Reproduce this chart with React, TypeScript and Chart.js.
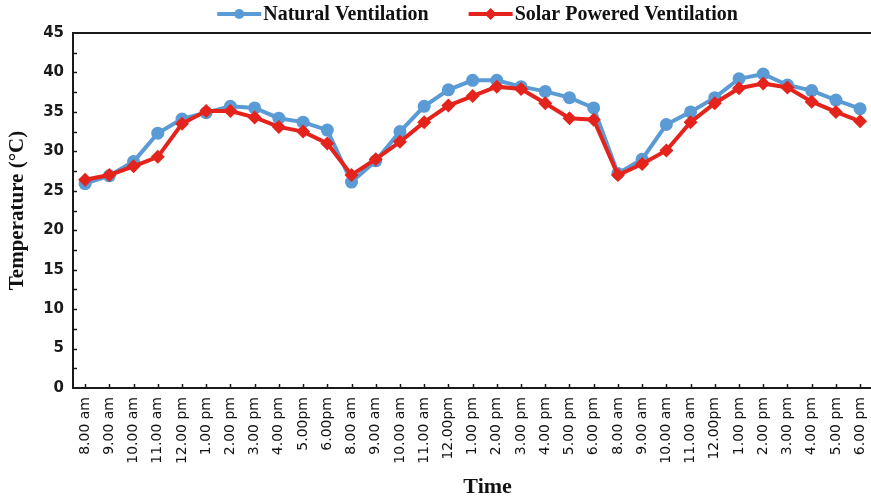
import { useEffect, useRef } from "react";
import { Chart, registerables } from "chart.js";

Chart.register(...registerables);

// Hourly readings over three days
const timeLabels = [
  "8.00 am", "9.00 am", "10.00 am", "11.00 am", "12.00 pm", "1.00 pm", "2.00 pm", "3.00 pm", "4.00 pm", "5.00pm", "6.00pm",
  "8.00 am", "9.00 am", "10.00 am", "11.00 am", "12.00pm", "1.00 pm", "2.00 pm", "3.00 pm", "4.00 pm", "5.00 pm", "6.00 pm",
  "8.00 am", "9.00 am", "10.00 am", "11.00 am", "12.00pm", "1.00 pm", "2.00 pm", "3.00 pm", "4.00 pm", "5.00 pm", "6.00 pm",
];

const naturalVentilation = [
  25.9, 26.9, 28.7, 32.3, 34.1, 34.9, 35.7, 35.5, 34.2, 33.7, 32.7,
  26.1, 28.8, 32.5, 35.7, 37.8, 39.0, 39.0, 38.2, 37.6, 36.8, 35.5,
  27.2, 29.0, 33.4, 35.0, 36.8, 39.2, 39.8, 38.4, 37.7, 36.5, 35.4,
];

const solarPoweredVentilation = [
  26.4, 27.0, 28.1, 29.3, 33.5, 35.1, 35.1, 34.3, 33.1, 32.5, 31.0,
  27.0, 29.0, 31.2, 33.7, 35.8, 37.0, 38.2, 37.9, 36.1, 34.2, 34.0,
  27.0, 28.4, 30.1, 33.7, 36.1, 38.0, 38.6, 38.1, 36.3, 35.0, 33.8,
];

const seriesNames = ["Natural Ventilation", "Solar Powered Ventilation"];

const BLUE = "#5b9bd5";
const RED = "#e5231d";
const AXIS = "#1a1a1a";
const SERIF = '"Liberation Serif", "Times New Roman", serif';
const SANS = '"DejaVu Sans", sans-serif';

// Frame line, inward tick marks, legend and x-axis title
const decorPlugin = {
  id: "decor",
  beforeDatasetsDraw(chart: any) {
    const { ctx, chartArea, scales } = chart;
    const { left, right, top, bottom } = chartArea;
    ctx.save();
    ctx.strokeStyle = AXIS;
    ctx.lineWidth = 2;
    ctx.beginPath();
    ctx.moveTo(left - 1, top);
    ctx.lineTo(right, top);
    ctx.stroke();

    ctx.lineWidth = 1.5;
    ctx.beginPath();
    for (let v = 2.5; v < 45; v += 2.5) {
      const py = Math.round(scales.y.getPixelForValue(v)) + 0.5;
      ctx.moveTo(left, py);
      ctx.lineTo(left + 4, py);
    }
    for (let i = 0; i < timeLabels.length; i++) {
      const px = Math.round(scales.x.getPixelForValue(i)) + 0.5;
      ctx.moveTo(px, bottom);
      ctx.lineTo(px, bottom - 4);
    }
    ctx.stroke();
    ctx.restore();
  },
  afterDraw(chart: any) {
    const { ctx, chartArea } = chart;
    ctx.save();

    // legend: line with marker, then bold label
    const font = `bold 20px ${SERIF}`;
    ctx.font = font;
    const lineLen = 44;
    const gapText = 2;
    const gapItems = 40;
    const widths = seriesNames.map((n) => ctx.measureText(n).width);
    const total = widths.reduce((a, w) => a + lineLen + gapText + w, 0) + gapItems;
    let x = (chartArea.left + chartArea.right) / 2 + 5 - total / 2;
    const ly = 14;
    const colors = [BLUE, RED];
    seriesNames.forEach((name, i) => {
      ctx.strokeStyle = colors[i];
      ctx.fillStyle = colors[i];
      ctx.lineWidth = 4;
      ctx.beginPath();
      ctx.moveTo(x, ly);
      ctx.lineTo(x + lineLen, ly);
      ctx.stroke();
      const cx = x + lineLen / 2;
      ctx.beginPath();
      if (i === 0) {
        ctx.arc(cx, ly, 5, 0, Math.PI * 2);
      } else {
        ctx.moveTo(cx, ly - 6);
        ctx.lineTo(cx + 6, ly);
        ctx.lineTo(cx, ly + 6);
        ctx.lineTo(cx - 6, ly);
        ctx.closePath();
      }
      ctx.fill();
      ctx.fillStyle = "#111";
      ctx.font = font;
      ctx.textAlign = "left";
      ctx.textBaseline = "middle";
      ctx.fillText(name, x + lineLen + gapText, ly + 1);
      x += lineLen + gapText + widths[i] + gapItems;
    });

    // x-axis title
    ctx.fillStyle = "#111";
    ctx.font = `bold 22px ${SERIF}`;
    ctx.textAlign = "center";
    ctx.textBaseline = "middle";
    ctx.fillText("Time", (chartArea.left + chartArea.right) / 2 + 15, 487);
    ctx.restore();
  },
};

export default function App() {
  const canvasRef = useRef<HTMLCanvasElement | null>(null);

  useEffect(() => {
    const canvas = canvasRef.current;
    if (!canvas) return;
    const chart = new Chart(canvas, {
      type: "line",
      data: {
        labels: timeLabels,
        datasets: [
          {
            label: seriesNames[0],
            data: naturalVentilation,
            borderColor: BLUE,
            backgroundColor: BLUE,
            borderWidth: 4,
            pointStyle: "circle",
            pointRadius: 6.5,
            pointBorderWidth: 0,
            tension: 0,
            order: 1,
          },
          {
            label: seriesNames[1],
            data: solarPoweredVentilation,
            borderColor: RED,
            backgroundColor: RED,
            borderWidth: 4,
            pointStyle: "rectRot",
            pointRadius: 7,
            pointBorderWidth: 0,
            tension: 0,
            order: 0,
          },
        ],
      },
      options: {
        responsive: false,
        animation: false,
        layout: { padding: { top: 33, right: 0, left: 0, bottom: 0 } },
        plugins: {
          legend: { display: false },
          tooltip: { enabled: false },
        },
        scales: {
          x: {
            type: "category",
            offset: true,
            grid: { display: false, drawTicks: false },
            border: { display: true, color: AXIS, width: 2 },
            ticks: {
              autoSkip: false,
              maxRotation: 90,
              minRotation: 90,
              padding: 9,
              color: "#111",
              font: { family: SANS, size: 14 },
            },
            afterFit: (scale: any) => {
              scale.height = 111;
            },
          },
          y: {
            min: 0,
            max: 45,
            grid: { display: false, drawTicks: false },
            border: { display: true, color: AXIS, width: 2 },
            ticks: {
              stepSize: 5,
              padding: 9,
              color: "#1a1a1a",
              font: { family: SANS, size: 15, weight: "bold" },
            },
            title: {
              display: true,
              text: "Temperature (°C)",
              color: "#111",
              font: { family: SERIF, size: 21, weight: "bold" },
              padding: { top: 5, bottom: 0 },
            },
            afterFit: (scale: any) => {
              scale.width = 73;
            },
          },
        },
      },
      plugins: [decorPlugin],
    });
    return () => chart.destroy();
  }, []);

  return (
    <div
      style={{
        position: "absolute",
        left: 0,
        top: 0,
        width: 871,
        height: 499,
        overflow: "hidden",
        background: "#fff",
      }}
    >
      <canvas ref={canvasRef} width={886} height={499} style={{ display: "block" }} />
    </div>
  );
}
